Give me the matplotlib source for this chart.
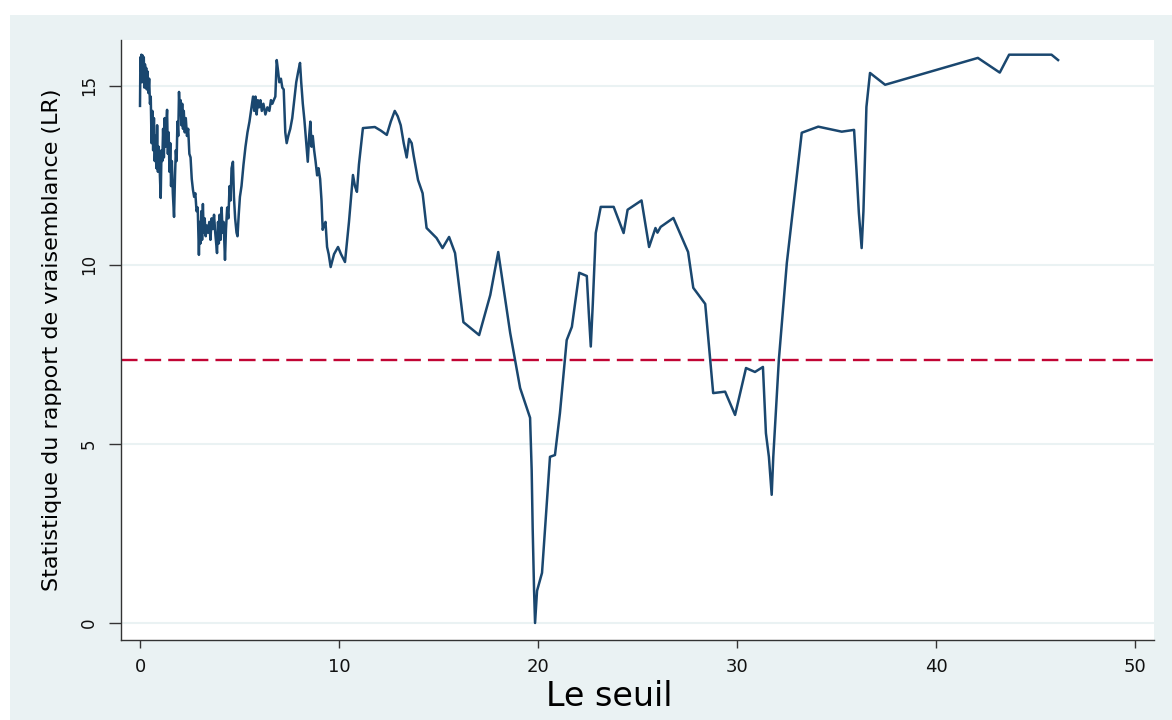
import numpy as np
import matplotlib.pyplot as plt
from matplotlib.patches import Rectangle

plt.rcParams['font.family'] = ['DejaVu Sans']

# seuil (threshold) values and LR statistic
seuil = [0.00, 0.02, 0.05, 0.07, 0.10, 0.13, 0.16, 0.19, 0.22, 0.25, 0.28, 0.31,
         0.34, 0.38, 0.42, 0.46, 0.50, 0.54, 0.58, 0.62, 0.66, 0.70, 0.74, 0.78,
         0.82, 0.86, 0.90, 0.94, 0.98, 1.04, 1.08, 1.12, 1.16, 1.20, 1.24, 1.28,
         1.32, 1.36, 1.40, 1.44, 1.48, 1.52, 1.56, 1.60, 1.65, 1.71, 1.76, 1.80,
         1.84, 1.88, 1.92, 1.96, 2.00, 2.04, 2.08, 2.12, 2.16, 2.20, 2.25, 2.30,
         2.36, 2.42, 2.48, 2.54, 2.60, 2.66, 2.72, 2.78, 2.84, 2.90, 2.96, 3.00,
         3.04, 3.08, 3.12, 3.16, 3.20, 3.25, 3.30, 3.36, 3.42, 3.48, 3.54, 3.60,
         3.66, 3.72, 3.78, 3.87, 3.92, 3.96, 4.00, 4.05, 4.10, 4.15, 4.20, 4.27,
         4.32, 4.38, 4.44, 4.50, 4.55, 4.60, 4.67, 4.72, 4.78, 4.85, 4.90, 4.96,
         5.02, 5.10, 5.20, 5.30, 5.40, 5.50, 5.60, 5.68, 5.74, 5.80, 5.86, 5.92,
         5.98, 6.05, 6.12, 6.20, 6.30, 6.40, 6.50, 6.58, 6.65, 6.72, 6.80, 6.87,
         6.94, 7.00, 7.08, 7.15, 7.22, 7.30, 7.37, 7.45, 7.55, 7.65, 7.75, 7.85,
         7.95, 8.04, 8.10, 8.18, 8.26, 8.34, 8.43, 8.50, 8.56, 8.62, 8.68, 8.75,
         8.82, 8.90, 8.97, 9.05, 9.12, 9.18, 9.24, 9.32, 9.40, 9.48, 9.58, 9.75,
         9.95, 10.10, 10.30, 10.50, 10.70, 10.80, 10.90, 11.00, 11.20, 11.80, 12.10, 12.40,
         12.60, 12.80, 12.95, 13.10, 13.25, 13.40, 13.52, 13.65, 13.75, 13.97, 14.20, 14.40,
         14.90, 15.20, 15.53, 15.83, 16.25, 17.04, 17.60, 18.00, 18.60, 19.10, 19.60, 19.68,
         19.73, 19.80, 19.85, 19.95, 20.20, 20.45, 20.60, 20.85, 21.10, 21.44, 21.70, 22.07,
         22.45, 22.55, 22.65, 22.75, 22.80, 22.90, 23.15, 23.80, 24.30, 24.50, 25.20, 25.58,
         25.90, 26.00, 26.16, 26.80, 27.54, 27.80, 28.40, 28.80, 29.40, 29.90, 30.45, 30.90,
         31.30, 31.45, 31.60, 31.74, 31.82, 32.10, 32.50, 33.25, 34.08, 35.26, 35.88, 36.00,
         36.12, 36.26, 36.35, 36.50, 36.68, 37.44, 42.10, 43.20, 43.67, 45.80, 46.13]

lr = [14.44, 15.80, 15.40, 15.87, 15.10, 15.85, 15.30, 15.80, 14.95, 15.60, 15.10, 15.50,
      14.90, 15.40, 14.80, 15.20, 14.50, 14.70, 13.40, 14.30, 13.20, 14.10, 12.90, 13.60,
      12.70, 13.90, 12.60, 13.30, 12.80, 11.87, 13.20, 12.90, 13.80, 13.00, 14.10, 13.30,
      13.90, 14.33, 13.10, 13.70, 12.60, 13.40, 12.20, 12.90, 12.00, 11.34, 12.50, 13.20,
      12.90, 14.00, 13.60, 14.83, 14.20, 14.60, 13.90, 14.50, 13.80, 14.30, 13.70, 14.10,
      13.60, 13.80, 13.10, 13.00, 12.40, 12.10, 11.90, 12.00, 11.50, 11.60, 10.28, 11.20,
      10.60, 11.50, 10.70, 11.70, 10.90, 11.30, 10.80, 11.10, 10.90, 11.20, 10.70, 11.30,
      11.00, 11.40, 10.90, 10.33, 11.20, 10.60, 11.40, 10.70, 11.60, 10.90, 11.20, 10.14,
      11.00, 11.60, 11.30, 12.20, 11.80, 12.70, 12.88, 11.90, 11.30, 10.90, 10.80, 11.40,
      11.90, 12.20, 12.80, 13.30, 13.70, 14.00, 14.40, 14.70, 14.30, 14.70, 14.20, 14.60,
      14.40, 14.60, 14.30, 14.50, 14.20, 14.40, 14.30, 14.60, 14.50, 14.60, 14.70, 15.72,
      15.40, 15.10, 15.20, 14.95, 14.90, 13.70, 13.40, 13.60, 13.80, 14.10, 14.60, 15.10,
      15.40, 15.64, 15.10, 14.50, 14.05, 13.50, 12.88, 13.60, 14.00, 13.30, 13.60, 13.20,
      12.90, 12.50, 12.70, 12.40, 11.80, 10.98, 11.10, 11.20, 10.50, 10.30, 9.94, 10.30,
      10.50, 10.30, 10.08, 11.20, 12.51, 12.20, 12.04, 12.80, 13.82, 13.85, 13.75, 13.63,
      14.00, 14.30, 14.15, 13.90, 13.40, 13.00, 13.52, 13.40, 13.05, 12.37, 12.00, 11.03,
      10.75, 10.47, 10.78, 10.33, 8.40, 8.04, 9.16, 10.36, 8.10, 6.56, 5.73, 4.27,
      2.65, 0.92, 0.00, 0.90, 1.40, 3.43, 4.64, 4.69, 5.86, 7.90, 8.27, 9.78,
      9.69, 8.66, 7.72, 8.90, 9.58, 10.89, 11.62, 11.62, 10.89, 11.54, 11.80, 10.50,
      11.03, 10.90, 11.06, 11.31, 10.36, 9.36, 8.91, 6.42, 6.46, 5.81, 7.12, 7.01,
      7.15, 5.30, 4.64, 3.58, 4.64, 7.35, 10.05, 13.69, 13.86, 13.72, 13.77, 12.65,
      11.45, 10.47, 11.50, 14.41, 15.36, 15.03, 15.78, 15.37, 15.87, 15.87, 15.72]

valeur_critique = 7.35

x_ticks = [0, 10, 20, 30, 40, 50]
y_ticks = [0, 5, 10, 15]

bg = '#EAF2F3'

fig = plt.figure(figsize=(11.72, 7.2), dpi=100)
fig.patch.set_facecolor('white')
fig.patches.append(Rectangle((10 / 1172, 0), 1, 705 / 720, transform=fig.transFigure,
                             facecolor=bg, edgecolor='none', zorder=-10))

ax = fig.add_axes([121 / 1172, 80 / 720, 1033 / 1172, 600 / 720])
ax.set_facecolor('white')

ax.plot(seuil, lr, color='#1A476F', lw=1.8, zorder=3)
ax.axhline(valeur_critique, color='#C10534', lw=1.7, dashes=(7, 3), zorder=2)

ax.set_xlim(-0.955, 50.95)
ax.set_ylim(-0.475, 16.28)
ax.set_xticks(x_ticks)
ax.set_yticks(y_ticks)
ax.yaxis.grid(True, color=bg, lw=1.5)
ax.set_axisbelow(True)

for s in ['top', 'right']:
    ax.spines[s].set_visible(False)
for s in ['left', 'bottom']:
    ax.spines[s].set_color('#333333')
    ax.spines[s].set_linewidth(1.0)

ax.tick_params(axis='x', direction='out', length=6, width=1, color='#333333',
               labelsize=13, labelcolor='#111111', pad=7)
ax.tick_params(axis='y', direction='out', length=8.5, width=1, color='#333333',
               labelsize=12, labelcolor='#111111', pad=8)
plt.setp(ax.get_yticklabels(), rotation=90, va='center')

ax.set_xlabel('Le seuil', fontsize=24)
ax.set_ylabel('Statistique du rapport de vraisemblance (LR)', fontsize=16)
ax.xaxis.set_label_coords(0.473, -0.066)
ax.yaxis.set_label_coords(-0.057, 0.5)

plt.savefig('out.png', dpi=100, facecolor=fig.get_facecolor())
